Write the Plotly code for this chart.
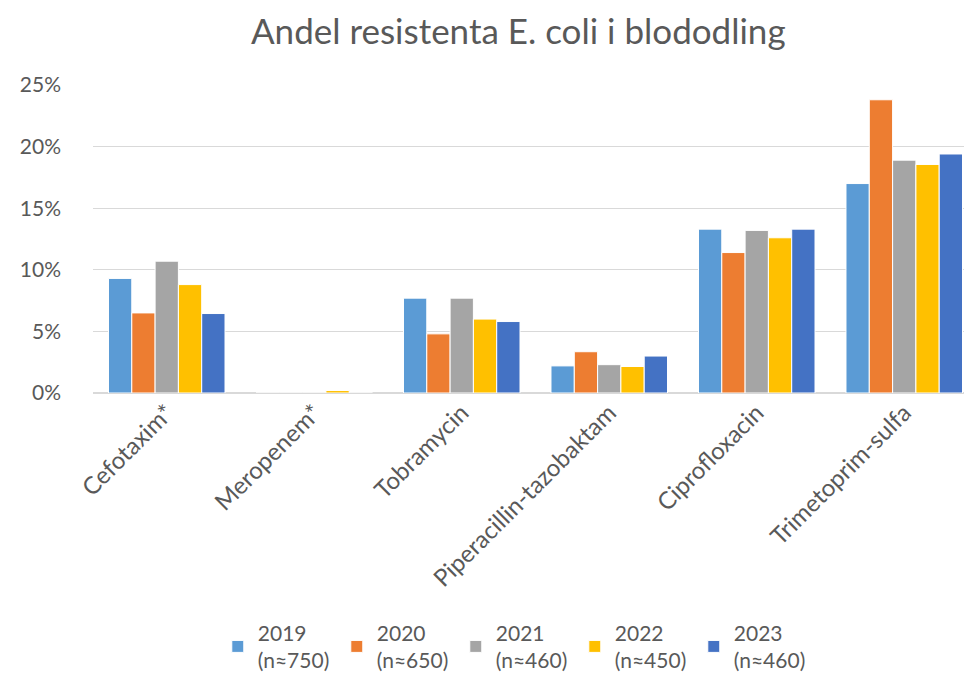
import plotly.graph_objects as go

# Data
categories = ["Cefotaxim*", "Meropenem*", "Tobramycin", "Piperacillin-tazobaktam",
              "Ciprofloxacin", "Trimetoprim-sulfa"]
years = ["2019<br>(n≈750)", "2020<br>(n≈650)", "2021<br>(n≈460)",
         "2022<br>(n≈450)", "2023<br>(n≈460)"]
v2019 = [0.093, 0.0, 0.077, 0.022, 0.133, 0.170]
v2020 = [0.065, 0.0, 0.048, 0.0335, 0.114, 0.238]
v2021 = [0.107, 0.0, 0.077, 0.023, 0.132, 0.189]
v2022 = [0.088, 0.002, 0.060, 0.0215, 0.126, 0.1855]
v2023 = [0.0645, 0.0, 0.058, 0.030, 0.133, 0.194]
colors = ["#5B9BD5", "#ED7D31", "#A5A5A5", "#FFC000", "#4472C4"]

fig = go.Figure()
for name, vals, col in zip(years, [v2019, v2020, v2021, v2022, v2023], colors):
    fig.add_trace(go.Bar(x=categories, y=vals, name=name,
                         marker=dict(color=col, line=dict(color="white", width=1))))

fig.update_layout(
    width=972, height=674,
    font=dict(family="Lato", color="#595959", size=21),
    title=dict(text="Andel resistenta E. coli i blododling", x=0.525, xanchor="center",
               y=0.965, yanchor="middle", font=dict(size=35, color="#595959")),
    plot_bgcolor="white", paper_bgcolor="white",
    margin=dict(l=85, r=2, t=77, b=283),
    barmode="group", bargap=0.21, bargroupgap=0,
    showlegend=True,
    legend=dict(orientation="h", x=0.141, xanchor="left", y=-0.713, yanchor="top",
                font=dict(size=21, color="#595959"), entrywidth=74,
                traceorder="normal", itemwidth=30),
)
fig.update_yaxes(range=[0, 0.25], dtick=0.05, tickformat=".0%", gridcolor="#D9D9D9",
                 gridwidth=1, zeroline=True, zerolinecolor="#D9D9D9", showline=False,
                 ticks="", ticklabelstandoff=31, automargin=False)
fig.update_xaxes(tickangle=-45, showline=False, ticks="", tickfont=dict(size=24),
                 automargin=False)

fig.write_html("out.html")
